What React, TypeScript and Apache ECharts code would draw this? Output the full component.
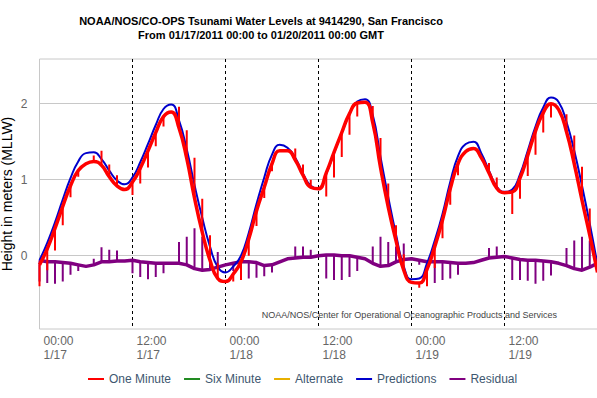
import React, { useEffect, useRef } from "react";
import * as echarts from "echarts";

// hours since 01/17/2011 00:00 GMT (one value per hour)
const predictions = [
  -0.06, 0.17, 0.44, 0.74, 1.02, 1.24, 1.35, 1.36, 1.27, 1.12,
  0.99, 0.94, 1.03, 1.23, 1.47, 1.72, 1.93, 1.99, 1.78, 1.40,
  0.93, 0.50, 0.12, -0.15, -0.22, -0.14, 0.0, 0.30, 0.68, 1.03,
  1.33, 1.46, 1.42, 1.29, 1.08, 0.92, 0.88, 1.08, 1.35, 1.62,
  1.87, 2.03, 2.06, 1.85, 1.30, 0.77, 0.28, -0.14, -0.31, -0.30,
  -0.10, 0.20, 0.55, 0.97, 1.31, 1.47, 1.50, 1.35, 1.12, 0.91,
  0.84, 0.87, 1.07, 1.38, 1.70, 1.95, 2.08, 2.02, 1.76, 1.38,
  0.92, 0.42, -0.12,
];

const oneMinute = [
  -0.12, 0.09, 0.36, 0.65, 0.92, 1.12, 1.21, 1.24, 1.19, 1.04,
  0.92, 0.87, 0.97, 1.15, 1.38, 1.62, 1.83, 1.89, 1.68, 1.28,
  0.76, 0.31, -0.06, -0.30, -0.34, -0.24, -0.08, 0.22, 0.59, 0.90,
  1.21, 1.38, 1.38, 1.26, 1.06, 0.90, 0.88, 1.09, 1.36, 1.62,
  1.87, 2.01, 2.02, 1.75, 1.16, 0.64, 0.20, -0.19, -0.35, -0.36,
  -0.18, 0.12, 0.47, 0.88, 1.21, 1.37, 1.41, 1.29, 1.09, 0.89,
  0.83, 0.84, 1.02, 1.32, 1.64, 1.88, 2.00, 1.92, 1.63, 1.21,
  0.73, 0.27, -0.22,
];

const residual = [
  -0.06, -0.08, -0.08, -0.09, -0.10, -0.12, -0.14, -0.12, -0.08, -0.08,
  -0.07, -0.07, -0.06, -0.08, -0.09, -0.10, -0.10, -0.10, -0.10, -0.12,
  -0.17, -0.19, -0.18, -0.15, -0.12, -0.10, -0.08, -0.08, -0.09, -0.13,
  -0.12, -0.08, -0.04, -0.03, -0.02, -0.02, 0.0, 0.01, 0.01, 0.0,
  0.0, -0.02, -0.04, -0.10, -0.14, -0.13, -0.08, -0.05, -0.04, -0.06,
  -0.08, -0.08, -0.08, -0.09, -0.10, -0.10, -0.09, -0.06, -0.03, -0.02,
  -0.01, -0.03, -0.05, -0.06, -0.06, -0.07, -0.08, -0.10, -0.13, -0.17,
  -0.19, -0.15, -0.10,
];

// [hour, spike tip value]
const residualSpikes: [number, number][] = [
  [0, -0.34], [1, -0.36], [2, -0.37], [3, -0.34], [4, -0.25], [5, -0.2],
  [7, -0.04], [8, 0.11], [9, 0.08], [10, 0.07],
  [12, -0.23], [13, -0.28], [14, -0.31], [15, -0.28], [16, -0.23],
  [18, 0.18], [19, 0.25], [20, 0.36], [21, 0.25], [22, 0.15], [23, 0.05],
  [25, -0.2], [26, -0.32], [27, -0.3], [28, -0.29], [29, -0.27], [30, -0.22],
  [33, 0.12], [34, 0.12], [35, 0.08],
  [37, -0.3], [38, -0.32], [39, -0.32], [40, -0.28], [41, -0.2],
  [43, 0.12], [44, 0.25], [45, 0.18], [46, 0.12], [47, 0.16],
  [49, -0.12], [50, -0.3], [51, -0.36], [52, -0.32], [53, -0.3], [54, -0.25],
  [58, 0.1], [59, 0.12],
  [61, -0.32], [62, -0.32], [63, -0.33], [64, -0.37], [65, -0.33], [66, -0.26],
  [68, 0.1], [69, 0.2], [70, 0.25], [71, 0.2],
];

const oneMinuteSpikes: [number, number][] = [
  [0, -0.4], [1, -0.19], [2, 0.07], [3, 0.4], [4, 0.77], [5, 1.04],
  [7, 1.32], [8, 1.38], [9, 1.2], [10, 1.06],
  [12, 0.8], [13, 0.95], [14, 1.16], [15, 1.44], [16, 1.7],
  [18, 1.96], [19, 1.65], [20, 1.29], [21, 0.75], [22, 0.27], [23, -0.1],
  [25, -0.34], [26, -0.32], [27, 0.0], [28, 0.39], [29, 0.76], [30, 1.11],
  [33, 1.41], [34, 1.2], [35, 1.0],
  [37, 0.78], [38, 1.03], [39, 1.3], [40, 1.59], [41, 1.83],
  [43, 1.97], [44, 1.55], [45, 0.95], [46, 0.4], [47, 0.02],
  [49, -0.42], [50, -0.4], [51, -0.16], [52, 0.23], [53, 0.67], [54, 1.06],
  [58, 1.22], [59, 1.03],
  [61, 0.55], [62, 0.75], [63, 1.05], [64, 1.33], [65, 1.62], [66, 1.82],
  [68, 1.86], [69, 1.58], [70, 1.17], [71, 0.62],
];

const xTickLabels = [
  "00:00\n1/17", "12:00\n1/17", "00:00\n1/18", "12:00\n1/18",
  "00:00\n1/19", "12:00\n1/19", "00:00\n1/20",
];
const yTickValues = [0, 1, 2];

const FONT = "'Liberation Sans', Arial, sans-serif";

function toPairs(values: number[]) {
  return values.map((v, i) => [i, v]);
}

function spikePairs(spikes: [number, number][], base: number[]) {
  const out: any[] = [];
  spikes.forEach(([h, tip]) => {
    out.push([h, base[h]]);
    out.push([h, tip]);
    out.push([h, null]);
  });
  return out;
}

export default function App() {
  const ref = useRef<HTMLDivElement>(null);

  useEffect(() => {
    if (!ref.current) return;
    const chart = echarts.init(ref.current, null, { renderer: "svg" });
    const option: any = {
      animation: false,
      backgroundColor: "#fff",
      textStyle: { fontFamily: FONT },
      grid: {
        left: 39.5,
        top: 59,
        width: 558,
        height: 270,
        show: true,
        borderColor: "#c8c8c8",
        borderWidth: 1,
        outerBoundsMode: "none",
      },
      legend: {
        left: 88,
        top: 373,
        padding: 0,
        icon: "rect",
        itemWidth: 16,
        itemHeight: 2,
        itemGap: 13,
        textStyle: { color: "#3E576F", fontSize: 12, fontFamily: FONT },
        data: ["One Minute", "Six Minute", "Alternate", "Predictions", "Residual"],
      },
      graphic: [
        {
          type: "text",
          x: 261,
          y: 21,
          style: {
            text: "NOAA/NOS/CO-OPS Tsunami Water Levels at 9414290, San Francisco",
            fontFamily: FONT,
            fontSize: 11,
            fontWeight: "bold",
            fill: "#000",
            textAlign: "center",
            textVerticalAlign: "middle",
          },
        },
        {
          type: "text",
          x: 261,
          y: 35,
          style: {
            text: "From 01/17/2011 00:00 to 01/20/2011 00:00 GMT",
            fontFamily: FONT,
            fontSize: 11,
            fontWeight: "bold",
            fill: "#000",
            textAlign: "center",
            textVerticalAlign: "middle",
          },
        },
        {
          type: "text",
          x: 557,
          y: 315,
          z: 100,
          style: {
            text: "NOAA/NOS/Center for Operational Oceanographic Products and Services",
            fontFamily: FONT,
            fontSize: 9,
            fill: "#444",
            textAlign: "right",
            textVerticalAlign: "middle",
          },
        },
      ],
      xAxis: {
        type: "value",
        min: 0,
        max: 72,
        interval: 12,
        axisLine: { show: false },
        axisTick: { show: false },
        axisLabel: {
          formatter: (v: number) => xTickLabels[Math.round(v / 12)],
          align: "left",
          padding: [0, 0, 0, 4],
          color: "#666",
          fontSize: 12,
          lineHeight: 14,
          margin: 5,
          showMaxLabel: false,
          fontFamily: FONT,
        },
        splitLine: {
          show: true,
          showMinLine: false,
          showMaxLine: false,
          lineStyle: { color: "#000", type: [3, 3], width: 1 },
        },
      },
      yAxis: {
        type: "value",
        min: -0.964,
        max: 2.588,
        name: "Height in meters (MLLW)",
        nameLocation: "middle",
        nameGap: 26,
        nameMoveOverlap: false,
        nameTextStyle: { fontSize: 14, color: "#000", fontFamily: FONT },
        axisLine: { show: false },
        axisTick: { show: false, customValues: yTickValues },
        axisLabel: { customValues: yTickValues, color: "#666", fontSize: 12, margin: 12, fontFamily: FONT },
        splitLine: { show: true, lineStyle: { color: "#c8c8c8", width: 1 } },
      },
      series: [
        {
          name: "Residual",
          type: "line",
          data: toPairs(residual),
          showSymbol: false,
          symbol: "none",
          lineStyle: { color: "#800080", width: 3.5 },
          itemStyle: { color: "#800080" },
        },
        {
          name: "Residual",
          type: "line",
          data: spikePairs(residualSpikes, residual),
          showSymbol: false,
          symbol: "none",
          connectNulls: false,
          lineStyle: { color: "#800080", width: 2 },
          itemStyle: { color: "#800080" },
        },
        {
          name: "Six Minute",
          type: "line",
          data: [],
          symbol: "none",
          lineStyle: { color: "#228B22", width: 2 },
          itemStyle: { color: "#228B22" },
        },
        {
          name: "Alternate",
          type: "line",
          data: [],
          symbol: "none",
          lineStyle: { color: "#E8B000", width: 2 },
          itemStyle: { color: "#E8B000" },
        },
        {
          name: "Predictions",
          type: "line",
          data: toPairs(predictions),
          smooth: true,
          showSymbol: false,
          symbol: "none",
          lineStyle: { color: "#0000CC", width: 2 },
          itemStyle: { color: "#0000CC" },
        },
        {
          name: "One Minute",
          type: "line",
          data: spikePairs(oneMinuteSpikes, oneMinute),
          showSymbol: false,
          symbol: "none",
          connectNulls: false,
          lineStyle: { color: "#FF0000", width: 2 },
          itemStyle: { color: "#FF0000" },
        },
        {
          name: "One Minute",
          type: "line",
          data: toPairs(oneMinute),
          smooth: true,
          showSymbol: false,
          symbol: "none",
          lineStyle: { color: "#FF0000", width: 3.5 },
          itemStyle: { color: "#FF0000" },
        },
      ],
    };
    chart.setOption(option);
    return () => chart.dispose();
  }, []);

  return (
    <div
      ref={ref}
      style={{ position: "absolute", left: 0, top: 0, width: 597, height: 398 }}
    />
  );
}
